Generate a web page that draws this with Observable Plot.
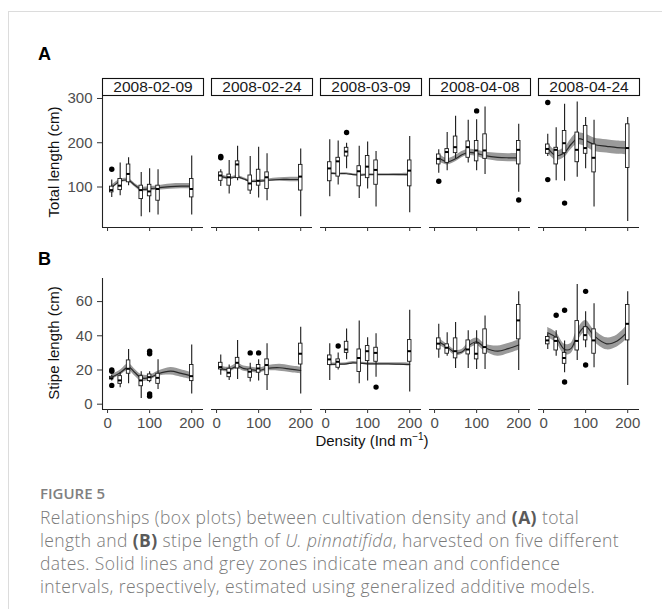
<!DOCTYPE html>
<html>
<head>
<meta charset="utf-8">
<script src="https://cdn.jsdelivr.net/npm/d3@7"></script>
<script src="https://cdn.jsdelivr.net/npm/@observablehq/plot@0.6"></script>
<style>
  html, body { margin: 0; padding: 0; background: #fff; }
  #wrap { position: relative; width: 662px; height: 609px; overflow: hidden; background: #fff; font-family: "Liberation Sans", Arial, sans-serif; }
  .abs { position: absolute; }
  .frameTop { position: absolute; left: 8px; top: 11px; right: 0; height: 0; border-top: 1px solid #dcdcdc; }
  .frameLeft { position: absolute; left: 8px; top: 11px; bottom: 0; width: 0; border-left: 1px solid #dcdcdc; }
  .tag { position: absolute; font-weight: bold; font-size: 18px; color: #000; }
  .ytitle { position: absolute; font-size: 15px; color: #111; white-space: nowrap; transform: translate(-50%, -50%) rotate(-90deg); }
  .xtitle { position: absolute; font-size: 15px; color: #111; white-space: nowrap; transform: translate(-50%, -50%); }
  .xtitle sup { font-size: 10px; }
  .caption { position: absolute; left: 40px; width: 620px; font-family: "Open Sans", "Lato", sans-serif; color: #7a7a7a; white-space: nowrap; }
  .caption .head { font-size: 15px; font-weight: 600; color: #808080; line-height: 20px; }
  .caption .body { font-size: 17.5px; line-height: 23px; font-weight: 300; margin-top: 3px; letter-spacing: 0.4px; }
  .caption b { font-weight: 700; color: #5a5a5a; }
</style>
</head>
<body>
<div id="wrap">
  <div class="frameTop"></div>
  <div class="frameLeft"></div>
  <div class="tag" style="left:38px; top:44px;">A</div>
  <div class="tag" style="left:38px; top:249px;">B</div>
  <div class="ytitle" style="left:53px; top:162px;">Total length (cm)</div>
  <div class="ytitle" style="left:53px; top:343px;">Stipe length (cm)</div>
  <div class="xtitle" style="left:372px; top:440px;">Density (Ind m<sup>−1</sup>)</div>
  <div id="strips" class="abs" style="left:0; top:78px;"></div>
  <div id="rowA" class="abs" style="left:0; top:91px;"></div>
  <div id="rowB" class="abs" style="left:0; top:272px;"></div>
  <div class="caption" style="top:483px;">
    <div class="head">FIGURE 5</div>
    <div class="body">Relationships (box plots) between cultivation density and <b>(A)</b> total<br>length and <b>(B)</b> stipe length of <i>U. pinnatifida</i>, harvested on five different<br>dates. Solid lines and grey zones indicate mean and confidence<br>intervals, respectively, estimated using generalized additive models.</div>
  </div>
</div>
<script>
// ---------- data ----------
const dates = ["2008-02-09", "2008-02-24", "2008-03-09", "2008-04-08", "2008-04-24"];
const densities = [10, 30, 50, 80, 100, 120, 200];
const xTicks = [0, 100, 200];
const totalTicks = [100, 200, 300];
const stipeTicks = [0, 20, 40, 60];

// (A) total length: rows = dates, columns = densities
const totalLow = [
  [76.5, 80, 103, 32.6, 42, 37, 37],
  [101, 84, 114, 83, 75, 69, 32.6],
  [78, 104.5, 141, 74, 95.5, 55, 42],
  [131, 137, 163.6, 154, 137, 128, 88],
  [169, 114, 113, 122, 141, 55, 22]
];
const totalQ1 = [
  [87.9, 93, 110.6, 72.7, 79, 69, 76.5],
  [114, 103, 120, 92, 103, 95.5, 92],
  [113, 123.5, 169, 101.5, 120, 105, 101.5],
  [151, 154.5, 176.5, 166, 158, 163.6, 151],
  [175, 151, 176.5, 156, 175, 133, 143]
];
const totalMedian = [
  [93, 103, 129.5, 93, 90, 95.5, 95.5],
  [126, 122, 151, 108, 114, 122, 123.5],
  [142, 158, 180, 135.6, 146, 138.6, 137],
  [163.6, 179, 190, 190, 182.6, 182.6, 184],
  [186, 184, 199, 184, 188, 166, 188]
];
const totalQ3 = [
  [100.8, 118, 150.8, 103, 105, 103, 118],
  [133, 128, 158, 126, 139, 133, 150],
  [156, 166, 188.6, 147, 170, 160, 160],
  [173.5, 185.6, 214, 203, 204, 219, 204],
  [196, 188.6, 226.5, 223, 238, 196, 241.7]
];
const totalHigh = [
  [116, 154, 166, 133, 141, 139, 170],
  [139, 160, 192, 169, 190, 175, 186],
  [207, 204, 199, 192, 201.5, 180, 214],
  [184, 223, 260, 251, 252, 281, 241.7],
  [219, 234, 287, 292, 257, 251, 257]
];
// outliers: [date index, density, value]
const totalOutliers = [
  [0, 10, 140],
  [1, 10, 169], [1, 10, 166],
  [2, 50, 223],
  [3, 10, 113], [3, 100, 272], [3, 200, 70.5],
  [4, 10, 291], [4, 10, 116.7], [4, 50, 63.6]
];

// (B) stipe length
const stipeLow = [
  [13.5, 9.6, 11.9, 3.3, 12.5, 8.6, 6],
  [17, 13.9, 14.5, 13, 13.5, 8, 6],
  [13.9, 20, 26, 11.9, 13.5, 15.8, 7.2],
  [26.8, 28, 20.9, 20.9, 20.3, 20.3, 19.7],
  [32, 28, 18.4, 25.6, 33, 21.3, 11]
];
const stipeQ1 = [
  [14.5, 11.9, 17.8, 10.5, 13.5, 11.9, 13.5],
  [20.3, 15.8, 20.9, 15.4, 18.4, 17, 23.2],
  [22.9, 21.3, 30, 18.8, 25.2, 24.8, 24.8],
  [32, 29.5, 26.8, 29.1, 26.2, 29.5, 37.9],
  [35, 31.4, 23.6, 31.4, 37.3, 29.5, 37.3]
];
const stipeMedian = [
  [15.2, 13.9, 20.7, 13.9, 15.8, 15.4, 16.4],
  [21.7, 18.4, 24.2, 19, 20.9, 22.9, 29.5],
  [26.2, 24.8, 32, 27, 31, 30, 31],
  [35.4, 33, 31, 32, 29.5, 33.4, 49],
  [37.3, 37, 27, 37, 40.4, 37.3, 47]
];
const stipeQ3 = [
  [16, 16.4, 25.6, 16.4, 17.4, 17.8, 22.9],
  [24.2, 20.7, 27.1, 20.3, 22.9, 26.2, 35.4],
  [28.5, 26.2, 36.5, 32, 34, 33, 37.5],
  [38.5, 35, 38.5, 37.3, 35.4, 43.75, 58],
  [39.3, 38.9, 30, 48.6, 45, 43.75, 58]
];
const stipeHigh = [
  [17, 18.4, 32, 19, 19, 26, 34.6],
  [28.7, 22.9, 37.3, 24, 26, 35.4, 45],
  [35.4, 30, 44, 48.6, 38.9, 41.2, 54.9],
  [46.7, 41.8, 47.7, 43, 43, 51.6, 65.8],
  [41.2, 43, 37, 70, 54, 58.8, 65.8]
];
const stipeOutliers = [
  [0, 10, 20], [0, 10, 19.3], [0, 10, 11], [0, 100, 31], [0, 100, 29.5], [0, 100, 6], [0, 100, 4.7],
  [1, 80, 30], [1, 100, 30],
  [2, 30, 34], [2, 120, 10],
  [4, 30, 52], [4, 50, 54.9], [4, 50, 13], [4, 100, 66], [4, 100, 22.9]
];

// GAM fits (mean and half-width of confidence band) on a density grid
const fitX = [10, 30, 50, 65, 80, 100, 120, 150, 175, 200];
const totalFit = [
  [99, 113, 115, 104, 95, 96, 98, 101, 102, 102],
  [124, 120, 123, 118, 113, 113, 115, 117, 117, 117],
  [131, 130, 130, 128, 127, 128, 128, 128, 128, 128],
  [166, 157, 164, 173, 178, 176, 171, 167, 166, 166],
  [188, 171, 178, 196, 209, 205, 196, 192, 189, 188]
];
const totalBand = [
  [5, 4, 4, 4, 5, 5, 5, 6, 6, 6],
  [4, 3, 3, 3, 3, 3, 3, 4, 5, 5],
  [3, 2, 2, 2, 2, 2, 2, 2, 2.5, 3],
  [9, 7, 7, 7, 7, 7, 8, 9, 9, 10],
  [12, 11, 11, 12, 13, 14, 15, 15, 15, 15]
];
const stipeFit = [
  [15.8, 18.4, 21.7, 18.5, 15.4, 15.5, 17.8, 19.3, 18, 16.4],
  [20.7, 20.3, 22.3, 20.8, 20.3, 19.7, 20.9, 21.3, 20.5, 19.7],
  [23.2, 23.4, 23.6, 24.2, 24, 23.6, 23.6, 23.6, 23.4, 23.2],
  [36.5, 33.5, 30, 30.5, 34, 36.5, 33, 31, 32.5, 34.6],
  [41.8, 38.9, 32, 32.5, 40, 45.5, 40, 35.3, 37, 42.4]
];
const stipeBand = [
  [1.5, 1.5, 2, 2, 2, 1.5, 1.5, 2.2, 2.2, 2],
  [1.5, 1.3, 1.5, 1.5, 1.5, 1.5, 1.5, 2, 2, 2],
  [0.8, 0.7, 0.7, 0.7, 0.7, 0.7, 0.7, 0.7, 0.8, 0.9],
  [2, 1.5, 1.5, 1.5, 2, 2.2, 2.2, 3, 3, 3],
  [3, 3, 3, 3, 3.5, 3.5, 3.5, 3.5, 3.5, 4]
];

// ---------- build tables ----------
function boxTable(lo, q1, med, q3, hi) {
  const rows = [];
  dates.forEach((date, i) => densities.forEach((x, j) => {
    rows.push({date, x, lo: lo[i][j], q1: q1[i][j], med: med[i][j], q3: q3[i][j], hi: hi[i][j]});
  }));
  return rows;
}
function outlierTable(list) {
  return list.map(([i, x, y]) => ({date: dates[i], x, y}));
}
function fitTable(fit, band) {
  const rows = [];
  dates.forEach((date, i) => fitX.forEach((x, j) => {
    rows.push({date, x, y: fit[i][j], lo: fit[i][j] - band[i][j], hi: fit[i][j] + band[i][j]});
  }));
  return rows;
}

const W = 662, ML = 100, MR = 20;
const xDomain = [-12, 228];
const halfBox = 4.2;
const fxScale = {domain: dates, paddingInner: 8 / 110, paddingOuter: 0, axis: null};
const font = "'Liberation Sans', Arial, sans-serif";

function row({boxes, outliers, fit, yDomain, yTicks, showXLabels, height, marginTop, marginBottom}) {
  return Plot.plot({
    width: W, height, marginLeft: ML, marginRight: MR, marginTop, marginBottom,
    style: {fontFamily: font, fontSize: "15px", background: "transparent", overflow: "visible"},
    fx: fxScale,
    x: {domain: xDomain},
    y: {domain: yDomain},
    marks: [
      Plot.areaY(fit, {fx: "date", x: "x", y1: "lo", y2: "hi", fill: "#9a9a9a", curve: "catmull-rom"}),
      Plot.lineY(fit, {fx: "date", x: "x", y: "y", stroke: "#2a2a2a", strokeWidth: 1.2, curve: "catmull-rom"}),
      Plot.ruleX(boxes, {fx: "date", x: "x", y1: "lo", y2: "hi", stroke: "#1a1a1a", strokeWidth: 1.1}),
      Plot.rect(boxes, {fx: "date", x1: d => d.x - halfBox, x2: d => d.x + halfBox, y1: "q1", y2: "q3", fill: "white", stroke: "#1a1a1a", strokeWidth: 0.9}),
      Plot.ruleY(boxes, {fx: "date", y: "med", x1: d => d.x - halfBox, x2: d => d.x + halfBox, stroke: "#000", strokeWidth: 2}),
      Plot.dot(outliers, {fx: "date", x: "x", y: "y", r: 2.7, fill: "#000", stroke: "none"}),
      Plot.ruleY([yDomain[0]], {stroke: "#222", strokeWidth: 1.1}),
      Plot.ruleX([{date: dates[0]}], {fx: "date", x: () => xDomain[0], stroke: "#222", strokeWidth: 1.1}),
      Plot.axisY({ticks: yTicks, tickSize: 5, tickPadding: 5, fill: "#4d4d4d", stroke: "#333", fontSize: 15, label: null}),
      showXLabels
        ? Plot.axisX({ticks: xTicks, tickSize: 4, tickPadding: 4, fill: "#4d4d4d", stroke: "#333", fontSize: 15, label: null})
        : Plot.axisX({ticks: xTicks, tickSize: 4, tickFormat: () => "", stroke: "#333", label: null})
    ]
  });
}

const strips = Plot.plot({
  width: W, height: 17, marginLeft: ML, marginRight: MR, marginTop: 0, marginBottom: 0,
  style: {fontFamily: font, fontSize: "15.5px", background: "transparent", overflow: "visible"},
  fx: fxScale,
  marks: [
    Plot.frame({stroke: "#111", strokeWidth: 1.1, fill: "white"}),
    Plot.text(dates, {fx: d => d, text: d => d, frameAnchor: "middle", fill: "#1a1a1a"})
  ]
});
document.getElementById("strips").appendChild(strips);

document.getElementById("rowA").appendChild(row({
  boxes: boxTable(totalLow, totalQ1, totalMedian, totalQ3, totalHigh),
  outliers: outlierTable(totalOutliers),
  fit: fitTable(totalFit, totalBand),
  yDomain: [8.5, 304.5], yTicks: totalTicks, showXLabels: false,
  height: 165, marginTop: 5, marginBottom: 29
}));

document.getElementById("rowB").appendChild(row({
  boxes: boxTable(stipeLow, stipeQ1, stipeMedian, stipeQ3, stipeHigh),
  outliers: outlierTable(stipeOutliers),
  fit: fitTable(stipeFit, stipeBand),
  yDomain: [-3.1, 73.5], yTicks: stipeTicks, showXLabels: true,
  height: 167, marginTop: 6, marginBottom: 30
}));
</script>
</body>
</html>
